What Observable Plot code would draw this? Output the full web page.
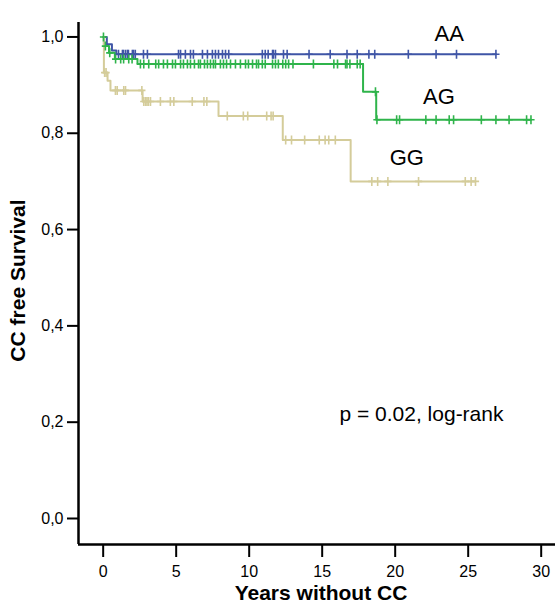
<!DOCTYPE html>
<html>
<head>
<meta charset="utf-8">
<script src="https://cdn.jsdelivr.net/npm/d3@7"></script>
<script src="https://cdn.jsdelivr.net/npm/@observablehq/plot@0.6"></script>
<style>
  html, body { margin: 0; padding: 0; background: #fff; }
  #chart svg { display: block; }
</style>
</head>
<body>
<div id="chart"></div>
<script>
// ---- Data ----
const groups = ["AA", "AG", "GG"];
const colors = ["#3f55a6", "#2fb44b", "#d4cc9a"];

// Kaplan-Meier steps: time (years) and survival after the step
const aaTimes = [0, 0.25, 0.6, 0.9];
const aaSurv  = [1, 0.985, 0.972, 0.964];
const aaEnd = 26.9;
const aaCensor = [1.05,1.32,1.39,1.53,1.66,1.73,2.0,2.08,2.2,2.76,3.03,5.16,5.3,5.63,5.98,6.18,6.8,7.14,7.48,7.69,7.9,8.17,8.38,8.6,10.9,11.1,11.3,11.6,11.66,11.8,12.35,12.6,14.1,15.55,16.7,17.4,18.2,18.6,20.9,22.8,24.2,26.9];

const agTimes = [0, 0.05, 0.4, 0.8, 2.35, 17.8, 18.7];
const agSurv  = [1, 0.981, 0.967, 0.954, 0.944, 0.886, 0.828];
const agEnd = 29.3;
const agCensor = [0.02,0.15,0.45,0.85,1.2,1.4,1.75,1.98,2.55,2.78,3.12,3.6,3.8,4.13,4.4,4.75,4.95,5.3,5.5,5.77,5.98,6.25,6.53,6.66,6.94,7.14,7.35,7.55,7.69,8.03,8.24,8.45,8.72,9.06,9.4,9.75,9.95,10.23,10.5,10.64,10.9,11.1,11.6,11.8,12.0,12.3,12.5,12.7,13.0,14.4,15.8,16.05,16.6,16.7,16.9,17.4,17.6,18.65,18.75,20.1,20.3,22.1,22.8,23.7,24.0,25.9,26.9,27.8,29.0,29.3];

const ggTimes = [0, 0.05, 0.3, 0.5, 2.7, 7.9, 12.3, 16.95];
const ggSurv  = [1, 0.926, 0.909, 0.889, 0.866, 0.836, 0.786, 0.700];
const ggEnd = 25.5;
const ggCensor = [0.1,0.2,0.84,0.96,1.41,1.53,2.65,2.78,2.9,3.0,3.1,3.24,3.92,4.6,4.84,6.1,6.9,7.1,8.5,9.6,9.9,11.2,11.5,11.64,12.5,12.9,13.8,14.8,15.2,15.45,15.9,18.4,18.8,19.5,21.6,24.8,25.2,25.5];

const xTicks = [0, 5, 10, 15, 20, 25, 30];
const yTicks = [0, 0.2, 0.4, 0.6, 0.8, 1.0];
const pText = "p = 0.02, log-rank";
const xTitle = "Years without CC";
const yTitle = "CC free Survival";

// ---- Build tables ----
const series = [
  {g: "AA", times: aaTimes, surv: aaSurv, end: aaEnd, censor: aaCensor},
  {g: "AG", times: agTimes, surv: agSurv, end: agEnd, censor: agCensor},
  {g: "GG", times: ggTimes, surv: ggSurv, end: ggEnd, censor: ggCensor}
];
function levelAt(s, t) {
  let v = s.surv[0];
  for (let i = 0; i < s.times.length; i++) if (s.times[i] <= t) v = s.surv[i];
  return v;
}
const lineData = [];
const censorData = [];
for (const s of series) {
  s.times.forEach((t, i) => lineData.push({g: s.g, t, s: s.surv[i]}));
  lineData.push({g: s.g, t: s.end, s: s.surv[s.surv.length - 1]});
  s.censor.forEach(t => censorData.push({g: s.g, t, s: levelAt(s, t)}));
}

const tickSymbol = {
  draw(ctx, size) {
    const h = Math.sqrt(size / Math.PI);
    ctx.moveTo(0, -h);
    ctx.lineTo(0, h);
    ctx.moveTo(-h * 0.8, 0);
    ctx.lineTo(h * 0.8, 0);
  }
};

const xDomain = [-1.69, 30.98];
const yDomain = [-0.054, 1.03];
const font = "Liberation Sans, Arial, sans-serif";

const chart = Plot.plot({
  width: 555,
  height: 607,
  marginLeft: 78,
  marginRight: 0,
  marginTop: 22,
  marginBottom: 63,
  style: {fontFamily: font, fontSize: "16px", background: "#fff", color: "#000"},
  x: {domain: xDomain},
  y: {domain: yDomain},
  color: {domain: groups, range: colors},
  marks: [
    Plot.line(lineData, {x: "t", y: "s", z: "g", stroke: "g", curve: "step-after", strokeWidth: 2}),
    Plot.dot(censorData, {x: "t", y: "s", stroke: "g", symbol: tickSymbol, r: 4.5, strokeWidth: 1.6, fill: "none"}),
    Plot.axisY(yTicks, {tickSize: 11, tickPadding: 4, strokeWidth: 2, fontSize: 16, tickFormat: d => d.toFixed(1).replace(".", ","), label: null}),
    Plot.axisX(xTicks, {tickSize: 13, tickPadding: 8, strokeWidth: 2, fontSize: 16, tickFormat: d => String(d), label: null}),
    Plot.ruleX([xDomain[0]], {strokeWidth: 2.5}),
    Plot.ruleY([yDomain[0]], {strokeWidth: 2.5}),
    Plot.text([groups[0]], {x: 23.7, y: 1.006, text: d => d, fontSize: 22}),
    Plot.text([groups[1]], {x: 23.0, y: 0.876, text: d => d, fontSize: 22}),
    Plot.text([groups[2]], {x: 20.8, y: 0.749, text: d => d, fontSize: 22}),
    Plot.text([pText], {x: 21.8, y: 0.216, text: d => d, fontSize: 21}),
    Plot.text([xTitle], {frameAnchor: "bottom", lineAnchor: "middle", textAnchor: "middle", dy: 49, dx: 4, text: d => d, fontSize: 21, fontWeight: "bold"}),
    Plot.text([yTitle], {frameAnchor: "left", textAnchor: "middle", lineAnchor: "middle", dx: -60, dy: -3, rotate: -90, text: d => d, fontSize: 21, fontWeight: "bold"})
  ]
});
document.getElementById("chart").appendChild(chart);
</script>
</body>
</html>
